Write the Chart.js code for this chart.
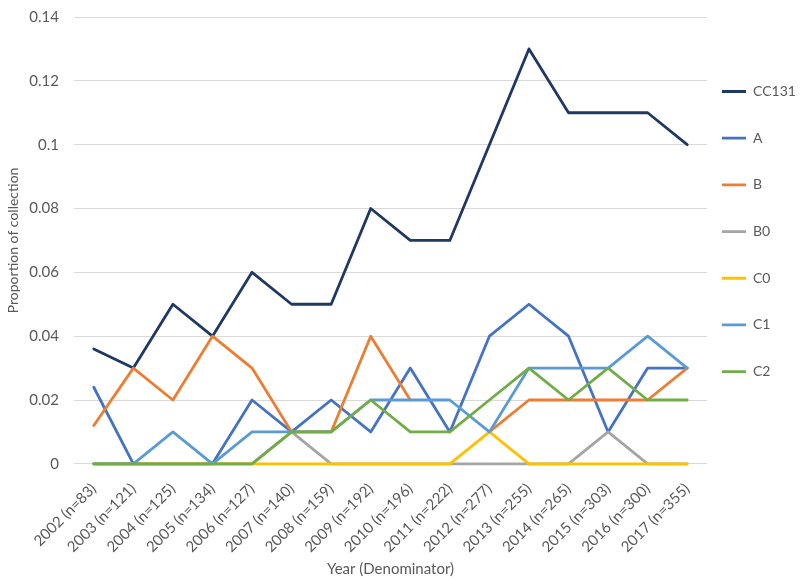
<!DOCTYPE html>
<html>
<head>
<meta charset="utf-8">
<script src="https://cdn.jsdelivr.net/npm/chart.js@4/dist/chart.umd.min.js"></script>
<style>
html,body{margin:0;padding:0;background:#fff;}
#wrap{width:800px;height:585px;position:relative;}
</style>
</head>
<body>
<div id="wrap"><canvas id="c"></canvas></div>
<script>
const categories = ["2002 (n=83)","2003 (n=121)","2004 (n=125)","2005 (n=134)","2006 (n=127)","2007 (n=140)","2008 (n=159)","2009 (n=192)","2010 (n=196)","2011 (n=222)","2012 (n=277)","2013 (n=255)","2014 (n=265)","2015 (n=303)","2016 (n=300)","2017 (n=355)"];
const seriesNames = ["CC131","A","B","B0","C0","C1","C2"];
const cc131 = [0.036,0.03,0.05,0.04,0.06,0.05,0.05,0.08,0.07,0.07,0.10,0.13,0.11,0.11,0.11,0.10];
const serA  = [0.024,0,0,0,0.02,0.01,0.02,0.01,0.03,0.01,0.04,0.05,0.04,0.01,0.03,0.03];
const serB  = [0.012,0.03,0.02,0.04,0.03,0.01,0.01,0.04,0.02,null,0.01,0.02,0.02,0.02,0.02,0.03];
const serB0 = [0,0,0,0,0,0.01,0,0,0,0,0,0,0,0.01,0,0];
const serC0 = [0,0,0,0,0,0,0,0,0,0,0.01,0,0,0,0,0];
const serC1 = [0,0,0.01,0,0.01,0.01,0.01,0.02,0.02,0.02,0.01,0.03,0.03,0.03,0.04,0.03];
const serC2 = [0,0,0,0,0,0.01,0.01,0.02,0.01,0.01,0.02,0.03,0.02,0.03,0.02,0.02];
const yTicks = [0,0.02,0.04,0.06,0.08,0.1,0.12,0.14];
const colors = ["#203864","#4472C4","#ED7D31","#A5A5A5","#FFC000","#5B9BD5","#70AD47"];
const allData = [cc131,serA,serB,serB0,serC0,serC1,serC2];

const datasets = allData.map((d,i)=>({
  label: seriesNames[i],
  data: d,
  borderColor: colors[i],
  backgroundColor: colors[i],
  borderWidth: 2.8,
  pointRadius: 0,
  pointHoverRadius: 0,
  tension: 0,
  spanGaps: false,
  borderJoinStyle: 'round',
  borderCapStyle: 'round',
  fill: false,
  clip: false,
  order: -i
}));

const FONT = "Lato, 'Open Sans', sans-serif";
const TXT = "#595959";

new Chart(document.getElementById('c'), {
  type: 'line',
  data: { labels: categories, datasets },
  options: {
    responsive: true,
    maintainAspectRatio: false,
    animation: false,
    layout: { padding: { top: 0, right: 0, left: 3, bottom: 7 } },
    plugins: {
      legend: {
        position: 'right',
        align: 'center',
        fullSize: false,
        maxWidth: 93,
        labels: {
          usePointStyle: true,
          pointStyle: 'line',
          pointStyleWidth: 24,
          boxWidth: 24,
          boxHeight: 14,
          padding: 15,
          color: TXT,
          font: { family: FONT, size: 14, lineHeight: 2.264 },
          sort: (a,b) => a.datasetIndex - b.datasetIndex,
          generateLabels: (chart) => {
            const items = Chart.defaults.plugins.legend.labels.generateLabels(chart);
            items.forEach(it => { it.text = [it.text]; });
            return items;
          }
        }
      },
      tooltip: { enabled: false }
    },
    scales: {
      x: {
        offset: true,
        afterFit: (scale) => { scale.paddingLeft = 0; scale.paddingRight = 0; scale.height -= 12; },
        grid: { display: false, drawTicks: false },
        border: { display: false },
        ticks: {
          color: TXT,
          font: { family: FONT, size: 15 },
          maxRotation: 45,
          minRotation: 45,
          autoSkip: false,
          padding: 16
        },
        title: {
          display: true,
          text: "Year (Denominator)",
          color: TXT,
          font: { family: FONT, size: 15 },
          padding: { top: 0, bottom: 0 }
        }
      },
      y: {
        min: 0,
        max: 0.14,
        afterBuildTicks: (axis) => { axis.ticks = yTicks.map(v => ({ value: v })); },
        afterFit: (scale) => { scale.paddingTop = 17; scale.paddingBottom = 0; scale.width = 71; },
        grid: { color: "#D9D9D9", lineWidth: 1, drawTicks: false },
        border: { display: false },
        ticks: {
          color: TXT,
          font: { family: FONT, size: 15 },
          padding: 15,
          callback: (v) => String(Math.round(v*100)/100)
        },
        title: {
          display: true,
          text: "Proportion of collection",
          color: TXT,
          font: { family: FONT, size: 14 },
          padding: { top: 2, bottom: 4 }
        }
      }
    }
  }
});
</script>
</body>
</html>
